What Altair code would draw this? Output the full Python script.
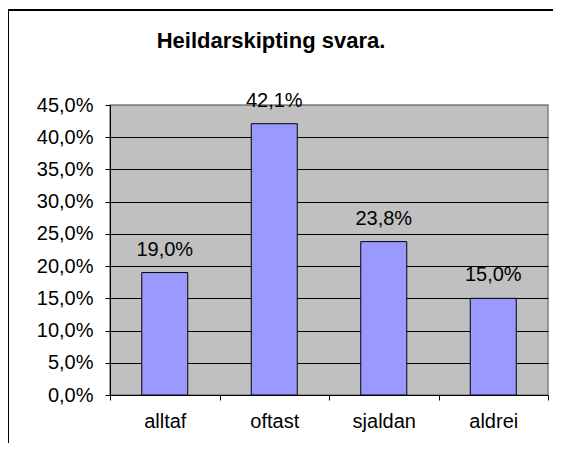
import altair as alt
import pandas as pd

categories = ["alltaf", "oftast", "sjaldan", "aldrei"]
shares = [0.190, 0.421, 0.238, 0.150]
y_ticks = [0.0, 0.05, 0.10, 0.15, 0.20, 0.25, 0.30, 0.35, 0.40, 0.45]
title_text = "Heildarskipting svara."

FONT = "Liberation Sans"

df = pd.DataFrame({"cat": categories, "share": shares})

x_enc = alt.X(
    "cat:N",
    sort=categories,
    scale=alt.Scale(paddingInner=0, paddingOuter=0),
    axis=alt.Axis(
        title=None, labelAngle=0, tickBand="extent", tickSize=5,
        tickColor="black", domainColor="black", labelFont=FONT,
        labelFontSize=20, labelColor="black", labelPadding=11, grid=False,
        labelOverlap=False,
    ),
)
y_enc = alt.Y(
    "share:Q",
    scale=alt.Scale(domain=[0, 0.45], nice=False),
    axis=alt.Axis(
        title=None, values=y_ticks, tickCount=10, tickSize=5, tickColor="black",
        domainColor="black", labelFont=FONT, labelFontSize=20,
        labelColor="black", labelPadding=12, labelOverlap=False,
        labelExpr="replace(format(datum.value, '.1%'), '.', ',')",
        grid=True,
        gridColor={"condition": {"test": "datum.value >= 0.449", "value": "#808080"}, "value": "black"},
        gridOpacity=1,
    ),
)

bars = alt.Chart(df).mark_bar(
    size=46, color="#9999FF", stroke="black", strokeWidth=1
).encode(x=x_enc, y=y_enc)

labels = alt.Chart(df).transform_calculate(
    label="replace(format(datum.share, '.1%'), '.', ',')"
).mark_text(
    baseline="alphabetic", dy=-17, font=FONT, fontSize=20, color="black"
).encode(x=x_enc, y=y_enc, text="label:N")

frame = alt.Chart(pd.DataFrame({"k": [0]})).mark_rect(
    fillOpacity=0, stroke="black", strokeWidth=2
).encode(
    x=alt.value(-102), x2=alt.value(470), y=alt.value(-95), y2=alt.value(380)
)

title = alt.Chart(pd.DataFrame({"t": [title_text]})).mark_text(
    font=FONT, fontSize=22, fontWeight="bold", color="black",
    align="center", baseline="middle"
).encode(text="t:N", x=alt.value(161), y=alt.value(-64))

chart = alt.layer(frame, bars, labels, title).properties(
    width=438, height=290,
    autosize=alt.AutoSizeParams(type="none"),
    padding={"left": 102, "top": 97, "right": 5, "bottom": 48},
    background="white",
).configure_view(fill="#C0C0C0", stroke="#808080", strokeWidth=1.5)

chart.save("out.html", embed_options={"renderer": "svg", "actions": False})
